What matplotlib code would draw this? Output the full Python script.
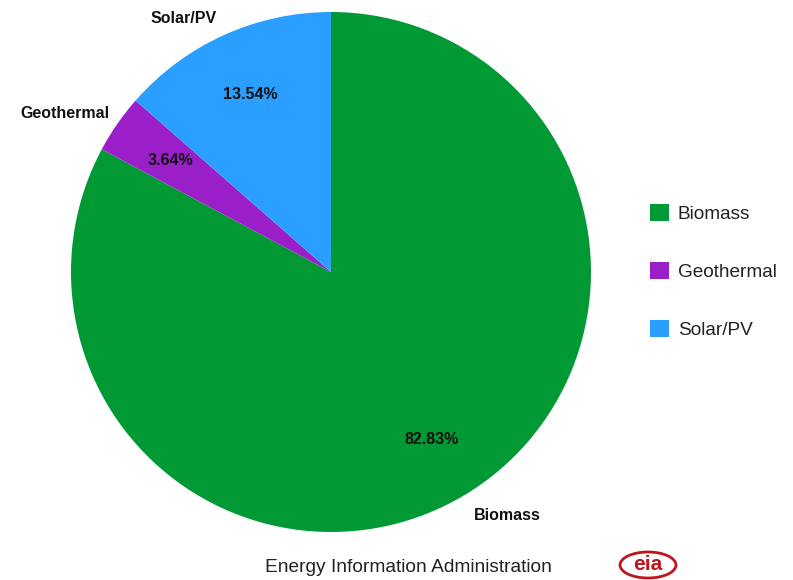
import numpy as np
import matplotlib.pyplot as plt
from matplotlib.patches import Ellipse

plt.rcParams['font.family'] = ['Liberation Sans', 'DejaVu Sans']

# data
sources = ["Biomass", "Geothermal", "Solar/PV"]
shares = [82.83, 3.64, 13.54]
colors = ["#009933", "#9b1fc9", "#2b9fff"]

fig = plt.figure(figsize=(7.93, 5.8), dpi=100)
ax = fig.add_axes([71 / 793, 48 / 580, 520 / 793, 520 / 580])

wedges, texts = ax.pie(
    shares, labels=sources, colors=colors, startangle=90, counterclock=False,
    labeldistance=1.07,
    textprops={"fontsize": 11.5, "fontweight": "bold", "color": "#111111"},
    wedgeprops={"linewidth": 0})
# small nudges to match the original label placement
x, y = texts[0].get_position()
texts[0].set_position((x, y - 0.02))
x, y = texts[1].get_position()
texts[1].set_position((x + 0.027, y))

# percentage labels use the values as given (autopct would renormalise)
for w, v in zip(wedges, shares):
    ang = np.deg2rad((w.theta1 + w.theta2) / 2)
    ax.text(0.75 * np.cos(ang), 0.75 * np.sin(ang), f"{v:.2f}%", ha="center", va="center",
            fontsize=11.5, fontweight="bold", color="#111111")
ax.set_xlim(-1, 1)
ax.set_ylim(-1, 1)
ax.set_aspect("equal")

leg = ax.legend(wedges, sources, loc="upper left", bbox_to_anchor=(633 / 793, 1 - 187 / 580),
                bbox_transform=fig.transFigure, frameon=False, fontsize=13.7,
                handlelength=1.0, handleheight=1.0, labelspacing=2.05, handletextpad=0.45)
for t in leg.get_texts():
    t.set_color("#222222")

# footer
fig.text(408 / 793, 1 - 567 / 580, "Energy Information Administration", ha="center", va="center",
         fontsize=13.8, color="#222222")
fig.text(648 / 793, 1 - 565 / 580, "eia", ha="center", va="center", fontsize=15,
         fontweight="bold", color="#c0141c")
fig.patches.append(Ellipse((648 / 793, 1 - 565 / 580), 56 / 793, 26 / 580, fill=False,
                           edgecolor="#c0141c", linewidth=2, transform=fig.transFigure))

fig.savefig("out.png", dpi=100)
